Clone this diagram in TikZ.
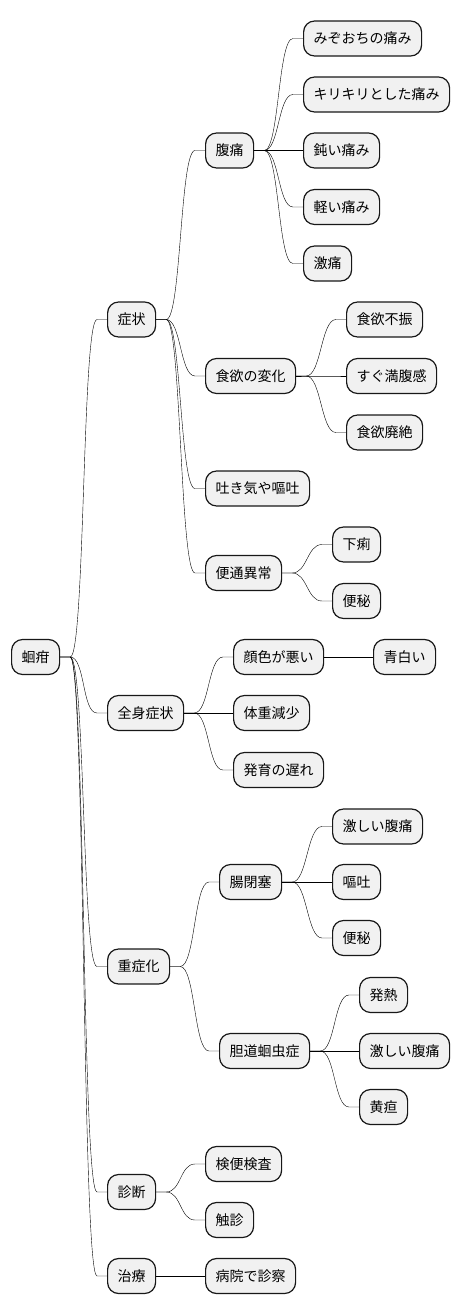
\documentclass[tikz,border=0pt]{standalone}
\usepackage{fontspec}
\setmainfont{Noto Sans CJK JP}
\definecolor{boxfill}{HTML}{F1F1F1}
\definecolor{boxline}{HTML}{181818}
\usetikzlibrary{calc}

\begin{document}
\begin{tikzpicture}[%
            x=1pt,y=-1pt,
            topic/.style={%
              anchor=west,
              draw=boxline,
              fill=boxfill,
              line width=1.2pt,
              rounded corners=11pt,
              minimum height=35pt,
              inner xsep=10pt,
              inner ysep=0pt,
              font=\fontsize{14}{16}\selectfont,
            },
            link/.style={%
              draw=boxline,
              line width=0.9pt,
              to path={(\tikztostart.east) -- ([xshift=10pt]\tikztostart.east)
                .. controls ([xshift=25pt]\tikztostart.east) and ([xshift=-25pt]\tikztotarget.west)
                .. ([xshift=-10pt]\tikztotarget.west) -- (\tikztotarget.west)},
            }
          ]
            \useasboundingbox (0,0) rectangle (460,1315);
            % root and main branches
            \node [topic] (root) at (11,657) {蛔疳};
            \foreach \n/\x/\y/\t in {%
                sym/107/319.5/症状, gen/107/713/全身症状, severe/107/966.5/重症化,
                diag/107/1192/診断, treat/107/1276/治療}
              \node [topic] (\n) at (\x,\y) {\t};
            % second level
            \foreach \n/\x/\y/\t in {%
                pain/205/150.5/腹痛, appetite/205/376/食欲の変化,
                nausea/205/488.5/吐き気や嘔吐, bowel/205/573/便通異常,
                face/233/657/顔色が悪い, weight/233/713/体重減少, growth/233/770/発育の遅れ,
                ileus/219/882/腸閉塞, biliary/219/1051/胆道蛔虫症,
                stool/205/1164/検便検査, palp/205/1220/触診,
                visit/205/1276/病院で診察}
              \node [topic] (\n) at (\x,\y) {\t};
            % leaves
            \foreach \n/\x/\y/\t in {%
                pain1/303/38.5/みぞおちの痛み, pain2/303/94.5/キリキリとした痛み,
                pain3/303/150.5/鈍い痛み, pain4/303/207/軽い痛み, pain5/303/263.5/激痛,
                app1/346/319.5/食欲不振, app2/346/376/すぐ満腹感, app3/346/432.5/食欲廃絶,
                bow1/332/544.5/下痢, bow2/332/601/便秘,
                pale/373/657/青白い,
                ile1/332/826.5/激しい腹痛, ile2/332/882/嘔吐, ile3/332/938/便秘,
                bil1/359/995/発熱, bil2/359/1051/激しい腹痛, bil3/359/1107/黄疸}
              \node [topic] (\n) at (\x,\y) {\t};

            \foreach \a/\b in {%
                root/sym, root/gen, root/severe, root/diag, root/treat,
                sym/pain, sym/appetite, sym/nausea, sym/bowel,
                pain/pain1, pain/pain2, pain/pain3, pain/pain4, pain/pain5,
                appetite/app1, appetite/app2, appetite/app3,
                bowel/bow1, bowel/bow2,
                gen/face, gen/weight, gen/growth, face/pale,
                severe/ileus, severe/biliary,
                ileus/ile1, ileus/ile2, ileus/ile3,
                biliary/bil1, biliary/bil2, biliary/bil3,
                diag/stool, diag/palp, treat/visit}
              \draw (\a) to [link] (\b);
          \end{tikzpicture}
\end{document}
